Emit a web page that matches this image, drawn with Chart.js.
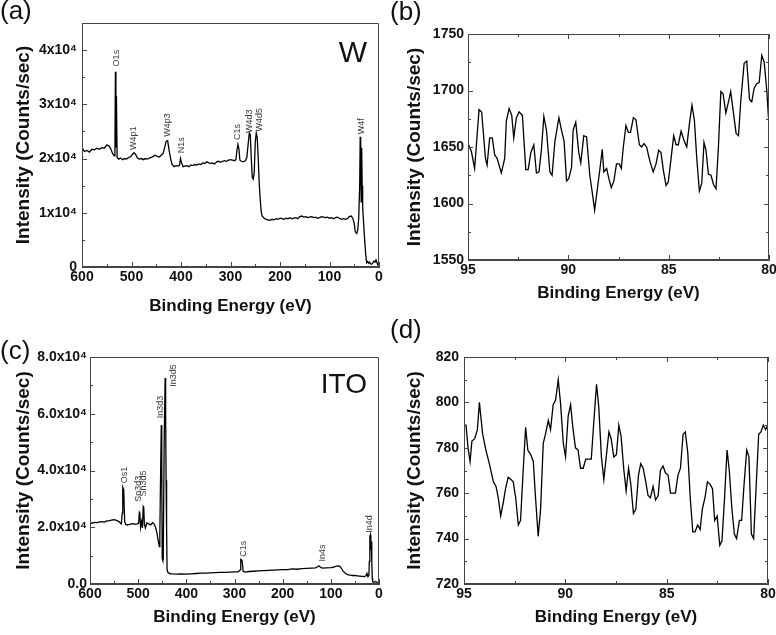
<!DOCTYPE html>
<html>
<head>
<meta charset="utf-8">
<script src="https://cdn.jsdelivr.net/npm/chart.js@4.4.1/dist/chart.umd.min.js"></script>
<style>
    body {
        margin: 0;
        background: #fff;
        width: 776px;
        height: 635px;
        position: relative;
        overflow: hidden;
        font-family: "Liberation Sans", Arial, sans-serif;
    }
    canvas {
        position: absolute;
    }
    .panel {
        position: absolute;
        font-size: 26px;
        line-height: 26px;
        color: #111;
    }
</style>
</head>
<body>
<canvas id="graficaW" width="388" height="322" style="left:0;top:0"></canvas>
<canvas id="graficaWZoom" width="388" height="322" style="left:388px;top:0"></canvas>
<canvas id="graficaITO" width="388" height="313" style="left:0;top:322px"></canvas>
<canvas id="graficaITOZoom" width="388" height="313" style="left:388px;top:322px"></canvas>
<div class="panel" style="left:0;top:-3px">(a)</div>
<div class="panel" style="left:390px;top:-2px">(b)</div>
<div class="panel" style="left:0;top:337px">(c)</div>
<div class="panel" style="left:390px;top:316px">(d)</div>

<script>
"use strict";

/**
 * (a) Espectro general W
 */
const energiaW = [
    600, 595, 590, 585, 580, 575, 570, 565, 560, 555, 550,
    546, 542, 538, 535, 533.5, 532.5, 531.5, 530.5, 529,
    526, 522, 518, 514, 510, 506, 502, 498, 495, 492,
    488, 484, 480, 476, 472, 468, 464, 460, 456, 452,
    448, 444, 440, 436, 433, 430, 427, 424, 421, 418,
    414, 410, 406, 403, 401, 399, 396, 392, 388, 384,
    380, 376, 372, 368, 364, 360, 356, 352, 348, 344,
    340, 336, 332, 328, 324, 320, 316, 312, 308, 304,
    300, 296, 292, 289, 287, 285, 283, 281, 278, 274,
    270, 267, 264, 262, 260, 258, 256, 254, 252, 250,
    248, 246, 244, 242, 240, 238, 236, 232, 228, 224,
    220, 216, 212, 208, 204, 200, 196, 192, 188, 184,
    180, 176, 172, 168, 164, 160, 156, 152, 148, 144,
    140, 136, 132, 128, 124, 120, 116, 112, 108, 104,
    100, 96, 92, 88, 84, 80, 76, 72, 68, 64,
    60, 56, 53, 50, 48, 45, 43, 41, 39, 38,
    37, 36, 35, 34, 33, 31, 29, 27, 25, 23,
    21, 19, 17, 15, 12, 10, 8, 6, 4, 2,
    0,
];
const cuentasW = [
    22000, 21300, 21500, 21200, 21700, 21600, 21900, 21700, 22000, 21900, 22500,
    22400, 21800, 20900, 20500, 21000, 36000, 22000, 31600, 20200,
    19900, 20100, 19800, 20000, 19900, 20200, 20300, 20800, 21100, 20800,
    20100, 19900, 20000, 19800, 20000, 19900, 20100, 20200, 20400, 20600,
    20400, 20300, 20600, 21000, 22000, 23200, 23300, 21500, 20000, 18900,
    18500, 18700, 18600, 18800, 20000, 19300, 18500, 18600, 18700, 18500,
    18800, 18700, 18900, 18800, 19000, 18900, 19200, 19100, 19400, 19200,
    19100, 19200, 19000, 19400, 19500, 19300, 19500, 19600, 19500, 19700,
    19800, 19700, 19600, 19800, 21500, 22600, 21800, 19700, 19500, 19400,
    19600, 20200, 23000, 24700, 24400, 20000, 16500, 16200, 17500, 23000,
    24700, 23800, 20000, 15500, 12500, 10200, 9400, 9000, 8800, 8700,
    8600, 8800, 8700, 8900, 8800, 9000, 8900, 8800, 9000, 8900,
    9100, 8900, 9000, 9100, 8900, 9300, 9400, 9200, 9300, 9100,
    9200, 9300, 9100, 9200, 9000, 9100, 9300, 9200, 9100, 9200,
    9000, 9100, 8900, 9100, 9200, 9000, 8800, 8900, 8800, 8900,
    9300, 9400, 9000, 8000, 6500, 6200, 6800, 9000, 15000, 24000,
    23500, 12000, 22000, 15000, 11000, 8000, 5000, 2500, 800, 1000,
    700, 900, 600, 500, 800, 1100, 900, 1300, 800, 300,
    200,
];
const picosW = ["O1s", "W4p1", "W4p3", "N1s", "C1s", "W4d3", "W4d5", "W4f"];
const picosWEnergia = [531, 495, 428, 399, 286, 262, 242, 36];
const picosWAltura = [37000, 21600, 24000, 21000, 23400, 24700, 25000, 24500];
const ticksYW = [0, 10000, 20000, 30000, 40000];
const etiquetasYW = ["0", "1x10\u2074", "2x10\u2074", "3x10\u2074", "4x10\u2074"];
const ticksXSurvey = [600, 500, 400, 300, 200, 100, 0];

/**
 * (b) Ventana 95-80 eV sobre W
 */
const energiaWZoom = [
    95.00, 94.83, 94.67, 94.45, 94.32, 94.13, 94.05, 93.92, 93.79, 93.67,
    93.55, 93.34, 93.17, 93.09, 92.95, 92.82, 92.72, 92.59, 92.45, 92.29,
    92.12, 92.00, 91.87, 91.72, 91.59, 91.46, 91.34, 91.22, 91.09, 90.92,
    90.81, 90.67, 90.47, 90.34, 90.21, 90.09, 89.98, 89.84, 89.76, 89.63,
    89.48, 89.38, 89.23, 89.09, 88.93, 88.81, 88.69, 88.56, 88.43, 88.31,
    88.23, 88.09, 87.98, 87.86, 87.73, 87.60, 87.46, 87.36, 87.26, 87.13,
    87.01, 86.90, 86.76, 86.63, 86.46, 86.35, 86.23, 86.10, 85.93, 85.77,
    85.63, 85.50, 85.38, 85.27, 85.13, 85.02, 84.88, 84.75, 84.63, 84.52,
    84.38, 84.22, 84.10, 83.97, 83.84, 83.72, 83.60, 83.47, 83.35, 83.24,
    83.14, 83.02, 82.89, 82.77, 82.64, 82.52, 82.40, 82.29, 82.15, 82.02,
    81.91, 81.77, 81.64, 81.52, 81.41, 81.24, 81.11, 80.97, 80.86, 80.74,
    80.61, 80.49, 80.36, 80.24, 80.11, 80.00,
];
const cuentasWZoom = [
    1653, 1646, 1631, 1683, 1681, 1640, 1634, 1658, 1658, 1643,
    1640, 1627, 1640, 1673, 1684, 1678, 1658, 1676, 1681, 1678,
    1630, 1630, 1645, 1652, 1627, 1628, 1648, 1677, 1665, 1628,
    1625, 1655, 1676, 1665, 1655, 1620, 1622, 1632, 1665, 1672,
    1645, 1636, 1660, 1659, 1625, 1610, 1594, 1612, 1630, 1648,
    1628, 1631, 1622, 1614, 1620, 1635, 1635, 1631, 1650, 1669,
    1663, 1663, 1676, 1674, 1652, 1650, 1653, 1650, 1637, 1628,
    1635, 1647, 1645, 1630, 1616, 1619, 1640, 1660, 1652, 1652,
    1664, 1655, 1650, 1670, 1687, 1674, 1640, 1611, 1618, 1654,
    1647, 1626, 1625, 1617, 1613, 1650, 1699, 1697, 1680, 1690,
    1699, 1680, 1662, 1660, 1690, 1724, 1726, 1692, 1690, 1702,
    1706, 1707, 1731, 1725, 1700, 1668,
];
const ticksYWZoom = [1550, 1600, 1650, 1700, 1750];

/**
 * (c) Espectro general ITO
 */
const energiaITO = [
    600, 595, 590, 585, 580, 575, 570, 565, 560, 555,
    550, 545, 540, 537, 535, 533, 532, 531, 530, 528,
    526, 522, 518, 514, 510, 506, 502, 499, 497.5, 496.5,
    495, 493, 491, 489.5, 488.5, 487, 485, 482, 478, 474,
    470, 467, 464, 461, 458, 456, 455, 454, 452, 451,
    450, 449, 448, 446, 444, 443, 442, 441, 440, 438,
    435, 430, 420, 410, 400, 390, 380, 370, 360, 350,
    340, 330, 320, 310, 300, 292, 288, 287, 285, 284,
    282, 278, 270, 260, 250, 240, 230, 220, 210, 200,
    190, 180, 170, 160, 150, 140, 132, 128, 125, 122,
    118, 110, 100, 95, 90, 85, 82, 78, 75, 70,
    65, 60, 55, 50, 45, 40, 35, 30, 27, 25,
    23, 21, 20, 19, 18, 17, 16, 15, 14, 13,
    10, 7, 5, 3, 0,
];
const cuentasITO = [
    21400, 21500, 21700, 21600, 21900, 22000, 21800, 22200, 22300, 22500,
    22700, 22400, 22000, 21500, 21200, 25000, 34000, 33500, 33200, 22000,
    21000, 20800, 21000, 21200, 21300, 21000, 21200, 21500, 25200, 24800,
    20000, 22000, 19800, 27300, 27000, 21000, 19800, 21500, 21200, 20800,
    21600, 21200, 20000, 18000, 14800, 13200, 18000, 31400, 56000, 40000,
    9000, 8400, 8500, 50000, 72600, 60000, 36600, 20000, 5000, 4000,
    3700, 3600, 3500, 3600, 3500, 3600, 3700, 3800, 3800, 3900,
    4000, 4100, 4100, 4200, 4300, 4300, 5000, 8700, 8500, 8000,
    4500, 4200, 4400, 4500, 4600, 4700, 4800, 4900, 5000, 5100,
    5100, 5300, 5200, 5400, 5500, 5600, 5700, 6000, 6400, 6000,
    5600, 5700, 5800, 5900, 6200, 6400, 6300, 5500, 4600, 3800,
    3300, 3100, 3000, 3000, 2900, 2800, 2700, 2600, 2900, 3700,
    2600, 3000, 8000, 16700, 17300, 12000, 15000, 8000, 2000, 800,
    600, 900, 700, 500, 300,
];
const picosITO = ["Os1", "Sn3d3", "Sn3d5", "In3d3", "In3d5", "C1s", "In4s", "In4d"];
const picosITOEnergia = [529, 500, 488, 453, 427, 282, 117, 19];
const picosITOAltura = [35500, 29000, 30800, 58400, 69500, 9600, 7900, 18100];
const ticksYITO = [0, 20000, 40000, 60000, 80000];
const etiquetasYITO = ["0.0", "2.0x10\u2074", "4.0x10\u2074", "6.0x10\u2074", "8.0x10\u2074"];

/**
 * (d) Ventana 95-80 eV sobre ITO
 */
const energiaITOZoom = [
    95.00, 94.90, 94.80, 94.70, 94.61, 94.47, 94.34, 94.24, 94.08, 93.92,
    93.75, 93.55, 93.42, 93.31, 93.19, 93.06, 92.95, 92.82, 92.68, 92.57,
    92.45, 92.32, 92.21, 92.08, 91.96, 91.85, 91.71, 91.58, 91.47, 91.34,
    91.22, 91.09, 90.98, 90.84, 90.73, 90.60, 90.48, 90.35, 90.24, 90.10,
    89.99, 89.86, 89.74, 89.63, 89.50, 89.37, 89.25, 89.12, 88.99, 88.86,
    88.72, 88.59, 88.46, 88.35, 88.22, 88.10, 87.97, 87.85, 87.74, 87.61,
    87.48, 87.36, 87.25, 87.11, 87.00, 86.88, 86.77, 86.64, 86.52, 86.39,
    86.28, 86.16, 86.03, 85.92, 85.80, 85.67, 85.55, 85.42, 85.31, 85.18,
    85.06, 84.93, 84.81, 84.68, 84.57, 84.44, 84.32, 84.19, 84.08, 83.96,
    83.83, 83.71, 83.60, 83.47, 83.35, 83.24, 83.11, 82.99, 82.86, 82.74,
    82.63, 82.51, 82.38, 82.27, 82.15, 82.02, 81.91, 81.78, 81.66, 81.55,
    81.41, 81.30, 81.18, 81.05, 80.94, 80.82, 80.71, 80.59, 80.46, 80.35,
    80.23, 80.12, 80.00,
];
const cuentasITOZoom = [
    790, 790, 780, 774, 783, 784, 788, 800, 786, 779,
    773, 765, 763, 758, 750, 756, 762, 767, 766, 765,
    758, 746, 748, 770, 789, 779, 777, 774, 758, 741,
    753, 782, 786, 792, 788, 799, 801, 810, 800, 782,
    776, 794, 799, 789, 780, 779, 771, 771, 775, 775,
    775, 792, 808, 798, 776, 766, 777, 787, 784, 776,
    777, 790, 785, 770, 761, 771, 764, 751, 753, 768,
    773, 771, 765, 759, 758, 763, 757, 759, 770, 772,
    769, 768, 760, 760, 760, 768, 771, 786, 787, 778,
    757, 743, 743, 746, 744, 753, 758, 765, 764, 762,
    748, 750, 737, 739, 757, 779, 770, 753, 742, 740,
    748, 748, 764, 779, 776, 742, 740, 762, 786, 787,
    790, 788, 790,
];
const ticksYITOZoom = [720, 740, 760, 780, 800, 820];
const ticksXZoom = [95, 90, 85, 80];

document.addEventListener("DOMContentLoaded", () => {
    const fuente = "Liberation Sans";
    const tinta = "#111";
    const gris = "#444";

    /**
     * Marco del area y marcas hacia adentro (mayores y menores)
     */
    function dibujarMarco(chart, opts) {
        const { ctx, chartArea: area, scales } = chart;
        const ejeX = scales.x;
        const ejeY = scales.y;
        const esMayor = (escala, v) =>
            escala.ticks.some((t) => Math.abs(t.value - v) < 1e-6);

        ctx.save();
        ctx.globalAlpha = 1;
        ctx.globalCompositeOperation = "source-over";
        ctx.setLineDash([]);
        ctx.strokeStyle = gris;
        ctx.lineWidth = 1;
        ctx.beginPath();
        ctx.rect(
            area.left + 0.5,
            area.top + 0.5,
            area.right - area.left - 1,
            area.bottom - area.top - 1
        );

        for (let v = opts.xMin; v <= opts.xMax + 1e-9; v += opts.xMenor) {
            const px = Math.round(ejeX.getPixelForValue(v)) + 0.5;
            const largo = esMayor(ejeX, v) ? 5 : 3;
            ctx.moveTo(px, area.bottom);
            ctx.lineTo(px, area.bottom - largo);
            if (opts.espejo) {
                ctx.moveTo(px, area.top);
                ctx.lineTo(px, area.top + largo);
            }
        }
        for (let v = opts.yMin; v <= opts.yMax + 1e-9; v += opts.yMenor) {
            const py = Math.round(ejeY.getPixelForValue(v)) + 0.5;
            const largo = esMayor(ejeY, v) ? 5 : 3;
            ctx.moveTo(area.left, py);
            ctx.lineTo(area.left + largo, py);
            if (opts.espejo) {
                ctx.moveTo(area.right, py);
                ctx.lineTo(area.right - largo, py);
            }
        }
        ctx.stroke();
        ctx.restore();
    }

    /**
     * Nombres de los picos (verticales) y la muestra
     */
    function dibujarPicos(chart, picos) {
        const { ctx, chartArea: area, scales } = chart;
        ctx.save();
        ctx.fillStyle = "#3a3a3a";
        ctx.font = `9px "${fuente}"`;
        ctx.textAlign = "left";
        ctx.textBaseline = "middle";
        picos.nombres.forEach((nombre, i) => {
            const px = scales.x.getPixelForValue(picos.energias[i]);
            const py = scales.y.getPixelForValue(picos.alturas[i]);
            ctx.save();
            ctx.translate(px, py);
            ctx.rotate(-Math.PI / 2);
            ctx.fillText(nombre, 0, 0);
            ctx.restore();
        });

        ctx.fillStyle = tinta;
        ctx.font = `${picos.tamMuestra}px "${fuente}"`;
        ctx.textAlign = "right";
        ctx.textBaseline = "alphabetic";
        ctx.fillText(picos.muestra, area.right - 12, area.top + picos.bajaMuestra);
        ctx.restore();
    }

    function crearGrafica(lienzo, cfg) {
        const puntos = cfg.energia.map((e, i) => ({ x: e, y: cfg.cuentas[i] }));

        const decorado = {
            id: "decorado",
            afterDraw(chart) {
                dibujarMarco(chart, cfg);
                if (cfg.picos) dibujarPicos(chart, cfg.picos);
            },
        };

        return new Chart(document.querySelector(lienzo), {
            type: "line",
            data: {
                datasets: [
                    {
                        data: puntos,
                        borderColor: "#000",
                        borderWidth: 1.3,
                        pointRadius: 0,
                        tension: 0,
                        fill: false,
                    },
                ],
            },
            options: {
                responsive: false,
                animation: false,
                events: [],
                layout: {
                    padding: { left: 0, top: cfg.arriba, right: cfg.derecha, bottom: 0 },
                },
                plugins: {
                    legend: { display: false },
                    tooltip: { enabled: false },
                },
                scales: {
                    x: {
                        type: "linear",
                        reverse: true,
                        min: cfg.xMin,
                        max: cfg.xMax,
                        afterBuildTicks: (escala) => {
                            escala.ticks = cfg.ticksX.map((v) => ({ value: v }));
                        },
                        afterFit: (escala) => {
                            escala.height = cfg.altoX;
                            escala.paddingLeft = 0;
                            escala.paddingRight = 0;
                        },
                        grid: { display: false, drawTicks: false },
                        border: { display: true, color: gris, width: 1 },
                        ticks: {
                            autoSkip: false,
                            maxRotation: 0,
                            padding: 2,
                            color: tinta,
                            font: { family: fuente, size: 14, weight: "bold" },
                        },
                        title: {
                            display: true,
                            text: "Binding Energy (eV)",
                            color: tinta,
                            font: { family: fuente, size: 17, weight: "bold" },
                            padding: { top: 0, bottom: cfg.tituloX },
                        },
                    },
                    y: {
                        type: "linear",
                        min: cfg.yMin,
                        max: cfg.yMax,
                        afterBuildTicks: (escala) => {
                            escala.ticks = cfg.ticksY.map((v) => ({ value: v }));
                        },
                        afterFit: (escala) => {
                            escala.width = cfg.anchoY;
                            escala.paddingTop = 0;
                            escala.paddingBottom = 0;
                        },
                        grid: { display: false, drawTicks: false },
                        border: { display: true, color: gris, width: 1 },
                        ticks: {
                            padding: cfg.sepY,
                            color: tinta,
                            font: { family: fuente, size: 14, weight: "bold" },
                            callback: (valor, indice) =>
                                cfg.etiquetasY ? cfg.etiquetasY[indice] : String(valor),
                        },
                        title: {
                            display: true,
                            text: "Intensity (Counts/sec)",
                            color: tinta,
                            font: { family: fuente, size: 19, weight: "bold" },
                            padding: { top: cfg.tituloY, bottom: 0 },
                        },
                    },
                },
            },
            plugins: [decorado],
        });
    }

    crearGrafica("#graficaW", {
        energia: energiaW,
        cuentas: cuentasW,
        xMin: 0, xMax: 600, ticksX: ticksXSurvey, xMenor: 50,
        yMin: 0, yMax: 45000, ticksY: ticksYW, yMenor: 5000,
        etiquetasY: etiquetasYW,
        arriba: 23, derecha: 9, anchoY: 82, altoX: 55,
        sepY: 5, tituloX: 5, tituloY: 12, espejo: false,
        picos: {
            nombres: picosW, energias: picosWEnergia, alturas: picosWAltura,
            muestra: "W", tamMuestra: 30, bajaMuestra: 39,
        },
    });

    crearGrafica("#graficaWZoom", {
        energia: energiaWZoom,
        cuentas: cuentasWZoom,
        xMin: 80, xMax: 95, ticksX: ticksXZoom, xMenor: 2.5,
        yMin: 1550, yMax: 1750, ticksY: ticksYWZoom, yMenor: 25,
        arriba: 34, derecha: 7, anchoY: 80, altoX: 62,
        sepY: 4, tituloX: 18, tituloY: 15, espejo: true,
    });

    crearGrafica("#graficaITO", {
        energia: energiaITO,
        cuentas: cuentasITO,
        xMin: 0, xMax: 600, ticksX: ticksXSurvey, xMenor: 50,
        yMin: 0, yMax: 80000, ticksY: ticksYITO, yMenor: 10000,
        etiquetasY: etiquetasYITO,
        arriba: 35, derecha: 9, anchoY: 90, altoX: 51,
        sepY: 3, tituloX: 7, tituloY: 12, espejo: false,
        picos: {
            nombres: picosITO, energias: picosITOEnergia, alturas: picosITOAltura,
            muestra: "ITO", tamMuestra: 28, bajaMuestra: 36,
        },
    });

    crearGrafica("#graficaITOZoom", {
        energia: energiaITOZoom,
        cuentas: cuentasITOZoom,
        xMin: 80, xMax: 95, ticksX: ticksXZoom, xMenor: 2.5,
        yMin: 720, yMax: 820, ticksY: ticksYITOZoom, yMenor: 10,
        arriba: 35, derecha: 8, anchoY: 76, altoX: 51,
        sepY: 5, tituloX: 7, tituloY: 15, espejo: true,
    });
});
</script>
</body>
</html>
